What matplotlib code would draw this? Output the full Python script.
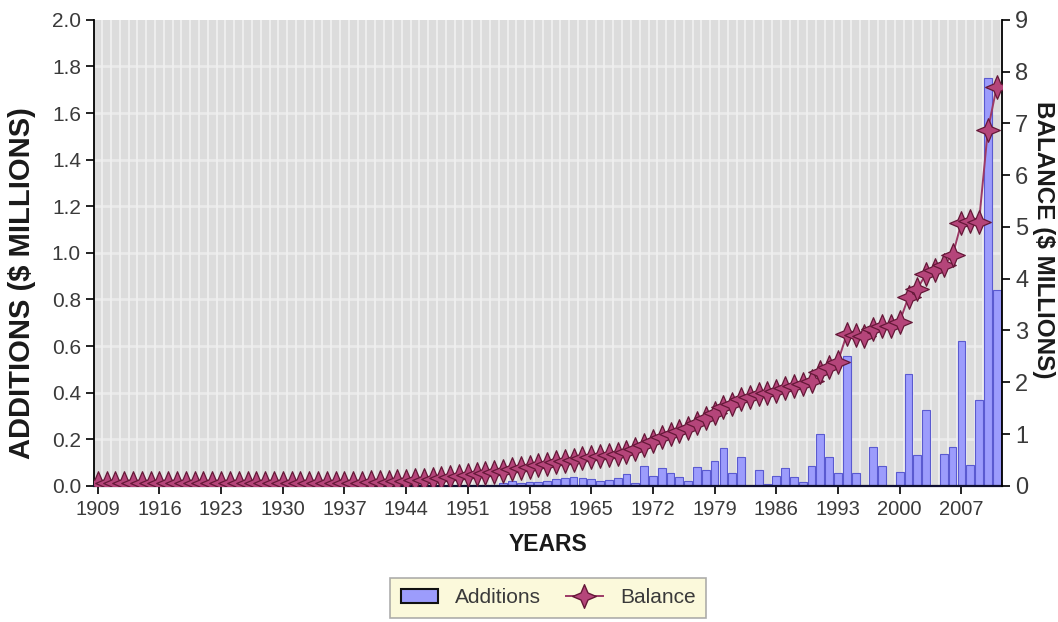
"""Additions (bars) and running balance (stars) per year, 1909-2011."""

import matplotlib
matplotlib.use("Agg")

import numpy as np
import matplotlib.pyplot as plt
from matplotlib.patches import Patch
from matplotlib.lines import Line2D
from matplotlib.path import Path

plt.rcParams["font.family"] = ["Liberation Sans", "DejaVu Sans"]

years = np.arange(1909, 2012)

# $ millions
additions = [
    0.0,
    0.0, 0.0, 0.0, 0.0, 0.0, 0.0, 0.0, 0.0, 0.0, 0.0,            # 1910s
    0.0, 0.0, 0.0, 0.0, 0.0, 0.0, 0.0, 0.0, 0.0, 0.0,            # 1920s
    0.0, 0.0, 0.0, 0.0, 0.0, 0.0, 0.0, 0.0, 0.0, 0.0,            # 1930s
    0.0, 0.0, 0.0, 0.0, 0.0, 0.0, 0.0, 0.0, 0.0, 0.0,            # 1940s
    0.0, 0.0, 0.0, 0.0, 0.0, 0.01, 0.02, 0.012, 0.015, 0.015,    # 1950s
    0.02, 0.03, 0.033, 0.036, 0.035, 0.03, 0.022, 0.024, 0.035, 0.052,  # 1960s
    0.014, 0.086, 0.043, 0.076, 0.057, 0.036, 0.022, 0.079, 0.067, 0.107,  # 1970s
    0.162, 0.053, 0.124, 0.0, 0.067, 0.007, 0.043, 0.076, 0.036, 0.016,  # 1980s
    0.087, 0.222, 0.125, 0.054, 0.558, 0.057, 0.0, 0.167, 0.085, 0.0,  # 1990s
    0.061, 0.48, 0.132, 0.326, 0.0, 0.138, 0.167, 0.622, 0.089, 0.37,  # 2000s
    1.752, 0.84,                                                 # 2010s
]

balance = [
    0.05,
    0.05, 0.05, 0.05, 0.05, 0.05, 0.05, 0.05, 0.05, 0.05, 0.05,
    0.05, 0.05, 0.05, 0.05, 0.05, 0.05, 0.05, 0.05, 0.05, 0.05,
    0.06, 0.06, 0.06, 0.06, 0.06, 0.06, 0.06, 0.06, 0.06, 0.06,
    0.07, 0.07, 0.08, 0.09, 0.10, 0.11, 0.12, 0.14, 0.15, 0.17,
    0.19, 0.21, 0.23, 0.25, 0.27, 0.29, 0.32, 0.35, 0.37, 0.40,
    0.42, 0.45, 0.47, 0.50, 0.53, 0.56, 0.58, 0.60, 0.62, 0.66,
    0.72, 0.79, 0.86, 0.94, 1.00, 1.06, 1.12, 1.21, 1.30, 1.41,
    1.52, 1.58, 1.68, 1.72, 1.77, 1.80, 1.83, 1.88, 1.92, 1.96,
    2.03, 2.20, 2.30, 2.40, 2.93, 2.92, 2.90, 3.03, 3.08, 3.08,
    3.17, 3.65, 3.80, 4.10, 4.17, 4.27, 4.45, 5.08, 5.12, 5.10,
    6.87, 7.70,
]

tick_years = list(range(1909, 2008, 7))
left_ticks = [0.0, 0.2, 0.4, 0.6, 0.8, 1.0, 1.2, 1.4, 1.6, 1.8, 2.0]
right_ticks = list(range(0, 10))

BAR_FACE = "#9c9cfc"
BAR_EDGE = "#5a5ad0"
LINE_COL = "#9c3a66"
STAR_FACE = "#b5457a"
STAR_EDGE = "#651838"
TXT = "#3a3a3a"

# fat four-point star, points up/down/left/right
r_in = 0.42
star_pts = []
for k in range(8):
    ang = np.pi / 2 + k * np.pi / 4
    r = 1.0 if k % 2 == 0 else r_in
    star_pts.append((r * np.cos(ang), r * np.sin(ang)))
star_pts.append(star_pts[0])
STAR = Path(star_pts, closed=True)

fig = plt.figure(figsize=(10.58, 6.22), dpi=100)
ax = fig.add_axes([0.089, 0.219, 0.858, 0.749])
ax.set_facecolor("#dcdcdc")

# striped background: light line at every year boundary, bands at the ticks
for y in years:
    ax.axvline(y + 0.5, color="#f4f4f4", lw=1.3, alpha=0.8, zorder=0)
for v in left_ticks[1:-1]:
    ax.axhline(v, color="#f0f0f0", lw=2.0, alpha=0.7, zorder=0)

ax.bar(years, additions, width=0.88, color=BAR_FACE, edgecolor=BAR_EDGE,
       linewidth=0.8, zorder=2)

ax.set_xlim(1908.6, 2011.6)
ax.set_ylim(0, 2.0)
ax.set_xticks(tick_years)
ax.set_xticklabels([str(y) for y in tick_years])
ax.set_yticks(left_ticks)
ax.set_yticklabels([f"{v:.1f}" for v in left_ticks])
ax.tick_params(axis="both", colors="#111111", labelcolor=TXT, labelsize=15,
               length=6, width=1.3, direction="out")
ax.tick_params(axis="x", labelsize=14.5, pad=4)

ax.spines["top"].set_visible(False)
ax.spines["right"].set_visible(False)
ax.spines["left"].set_linewidth(1.3)
ax.spines["bottom"].set_linewidth(1.6)
ax.spines["bottom"].set_color("#101030")

ax2 = ax.twinx()
ax2.plot(years, balance, color=LINE_COL, lw=1.4, marker=STAR,
         markersize=17, markerfacecolor=STAR_FACE, markeredgecolor=STAR_EDGE,
         markeredgewidth=0.9, zorder=3)
ax2.set_ylim(0, 9)
ax2.set_yticks(right_ticks)
ax2.tick_params(axis="y", colors="#111111", labelcolor=TXT, labelsize=17,
                length=6, width=1.3, direction="out")
ax2.spines["top"].set_visible(False)
ax2.spines["left"].set_visible(False)
ax2.spines["bottom"].set_visible(False)
ax2.spines["right"].set_linewidth(1.3)

fig.text(0.021, 0.545, "ADDITIONS ($ MILLIONS)", rotation=90, ha="center",
         va="center", fontsize=21, fontweight="bold", color="#1a1a1a")
fig.text(0.986, 0.615, "BALANCE ($ MILLIONS)", rotation=-90, ha="center",
         va="center", fontsize=17.5, fontweight="bold", color="#1a1a1a")
fig.text(0.518, 0.124, "YEARS", ha="center", va="center", fontsize=16.5,
         fontweight="bold", color="#1a1a1a")

handles = [
    Patch(facecolor=BAR_FACE, edgecolor="#111111", linewidth=1.5),
    Line2D([], [], color=LINE_COL, lw=1.4, marker=STAR, markersize=17,
           markerfacecolor=STAR_FACE, markeredgecolor=STAR_EDGE),
]
leg = fig.legend(handles, ["Additions", "Balance"], loc="center",
                 bbox_to_anchor=(0.518, 0.039), ncol=2, fontsize=15,
                 frameon=True, fancybox=False, handlelength=1.8,
                 columnspacing=1.2, borderpad=0.5)
leg.get_frame().set_facecolor("#fbf8d2")
leg.get_frame().set_edgecolor("#9a9a9a")
leg.get_frame().set_linewidth(1.2)
for t in leg.get_texts():
    t.set_color(TXT)

fig.savefig("out.png", dpi=100)
